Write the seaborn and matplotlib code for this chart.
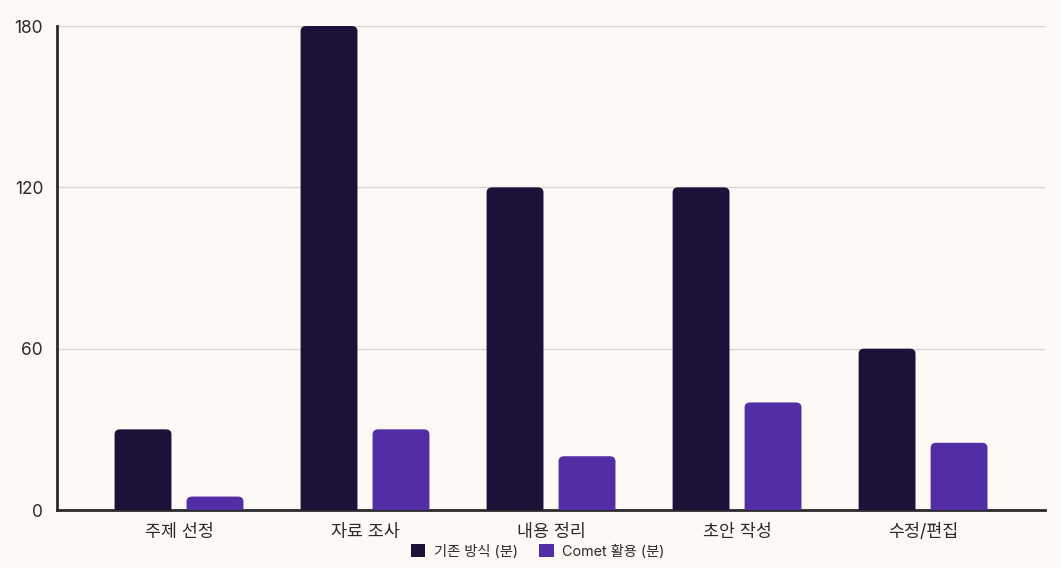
import pandas as pd
import seaborn as sns
import matplotlib.pyplot as plt
from matplotlib.path import Path
from matplotlib.patches import PathPatch, Rectangle

# data
categories = ['주제 선정', '자료 조사', '내용 정리', '초안 작성', '수정/편집']
series_names = ['기존 방식 (분)', 'Comet 활용 (분)']
before_min = [30, 180, 120, 120, 60]
comet_min = [5, 30, 20, 40, 25]
y_ticks = [0, 60, 120, 180]

colors = ['#1E1139', '#522DA6']
bg = '#FDF9F6'

df = pd.DataFrame({
    'task': categories * 2,
    'series': [series_names[0]] * len(categories) + [series_names[1]] * len(categories),
    'value': before_min + comet_min,
})

sns.set_style('white')
plt.rcParams['font.family'] = ['Inter', 'Noto Sans CJK KR', 'DejaVu Sans']

fig = plt.figure(figsize=(10.61, 5.68), dpi=100, facecolor=bg)
ax = fig.add_axes([0.0537, 0.1021, 0.9313, 0.8521])
ax.set_facecolor(bg)

sns.barplot(data=df, x='task', y='value', hue='series', palette=colors,
            width=0.774, gap=0.21, ax=ax, legend=False, saturation=1)

ax.set_xlim(-0.656, 4.656)
ax.set_ylim(0, 180)


def round_top(rect, rx, ry):
    x0, y0 = rect.get_x(), rect.get_y()
    w, h = rect.get_width(), rect.get_height()
    x1, y1 = x0 + w, y0 + h
    ry = min(ry, h)
    verts = [(x0, y0), (x0, y1 - ry), (x0, y1), (x0 + rx, y1),
             (x1 - rx, y1), (x1, y1), (x1, y1 - ry), (x1, y0), (x0, y0)]
    codes = [Path.MOVETO, Path.LINETO, Path.CURVE3, Path.CURVE3,
             Path.LINETO, Path.CURVE3, Path.CURVE3, Path.LINETO, Path.CLOSEPOLY]
    return PathPatch(Path(verts, codes), facecolor=rect.get_facecolor(),
                     edgecolor='none', zorder=3)


for p in list(ax.patches):
    if isinstance(p, Rectangle):
        new = round_top(p, 0.03, 1.9)
        p.remove()
        ax.add_patch(new)

ax.set_yticks(y_ticks)
ax.yaxis.grid(True, color='#D9D5D3', linewidth=1)
ax.set_axisbelow(True)
ax.set_xlabel('')
ax.set_ylabel('')

for s in ['top', 'right']:
    ax.spines[s].set_visible(False)
for s in ['left', 'bottom']:
    ax.spines[s].set_color('#2A2A2A')
    ax.spines[s].set_linewidth(2)

ax.tick_params(axis='both', length=7, width=2, color='#2A2A2A',
               labelsize=12.5, labelcolor='#2A2A2A', pad=3)

handles = [Rectangle((0, 0), 1, 1, facecolor=c, edgecolor='none') for c in colors]
fig.legend(handles, series_names, loc='center', bbox_to_anchor=(0.507, 0.029),
           ncol=2, frameon=False, fontsize=10.3, handlelength=1.0,
           handleheight=1.0, columnspacing=1.5, handletextpad=0.6,
           labelcolor='#2A2A2A')

fig.savefig('out.png', dpi=100, facecolor=bg)
